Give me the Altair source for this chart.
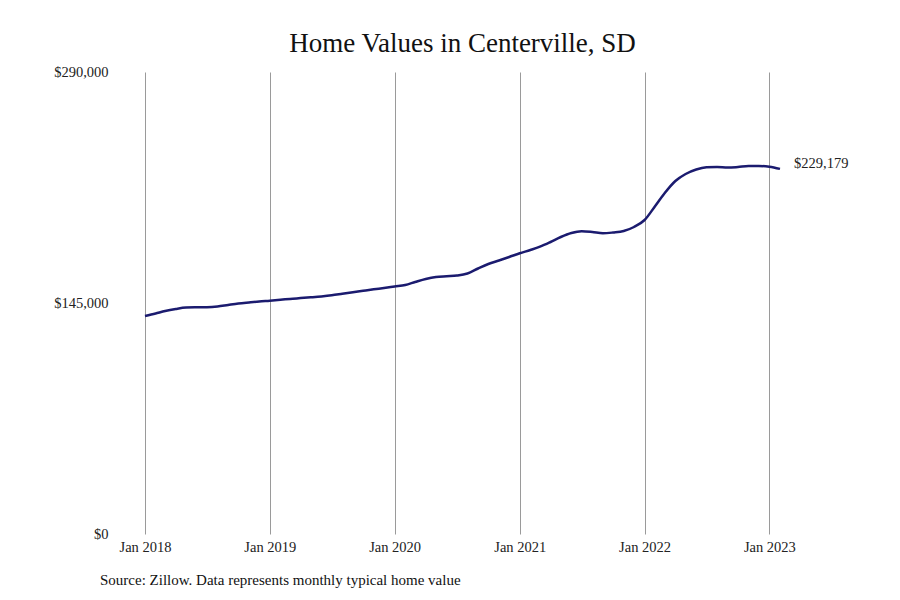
import altair as alt
import pandas as pd

months = pd.date_range("2018-01-01", "2023-02-01", freq="MS").strftime("%Y-%m-%d").tolist()
values = [
    136800, 138410, 139980, 141235, 142110, 142300, 142365, 142800, 143745, 144625, 145315, 145940,
    146450, 147010, 147575, 148080, 148580, 149145, 149835, 150775, 151720, 152660, 153600, 154415,
    155360, 156300, 158180, 160065, 161320, 161825, 162265, 163520, 166660, 169480, 171680, 173880,
    176200, 178270, 180340, 183290, 186430, 188940, 190070, 189570, 188750, 189255, 190195, 192710,
    197100, 205890, 214050, 221580, 225975, 228800, 230180, 230370, 229990, 230370, 231000, 231000,
    230560, 229179,
]
y_ticks = [0, 145000, 290000]
x_ticks = ["2018-01-01", "2019-01-01", "2020-01-01", "2021-01-01", "2022-01-01", "2023-01-01"]

df = pd.DataFrame({"date": months, "value": values})
last = df.tail(1)

FONT = "Liberation Serif"
x_enc = alt.X(
    "date:T",
    scale=alt.Scale(domain=["2018-01-01", "2023-02-01"]),
    axis=alt.Axis(
        values=x_ticks, format="Jan %Y", title=None, grid=True, gridColor="#9a9a9a",
        gridWidth=1, ticks=False, domain=False, labelFontSize=14.5, labelFont=FONT,
        labelColor="#222222", labelPadding=6, labelFlush=False, labelOverlap=False,
    ),
)
y_enc = alt.Y(
    "value:Q",
    scale=alt.Scale(domain=[0, 290000], nice=False),
    axis=alt.Axis(
        values=y_ticks, format="$,.0f", title=None, grid=False, ticks=False, domain=False,
        labelFontSize=14.5, labelFont=FONT, labelColor="#222222", labelPadding=37,
    ),
)

line = alt.Chart(df).mark_line(color="#1b1b6f", strokeWidth=2.5, interpolate="monotone").encode(
    x=x_enc, y=y_enc
)
end_label = alt.Chart(last).mark_text(
    align="left", dx=14, dy=-5, fontSize=14.5, font=FONT, color="#222222"
).encode(x=x_enc, y=y_enc, text=alt.Text("value:Q", format="$,.0f"))

source = alt.Chart(pd.DataFrame({"t": ["Source: Zillow. Data represents monthly typical home value"]})).mark_text(
    align="left", baseline="middle", fontSize=15, font=FONT, color="#111111"
).encode(x=alt.value(-45), y=alt.value(508), text="t:N")

chart = (
    alt.layer(line, end_label, source)
    .properties(
        width=635,
        height=462,
        background="white",
        title=alt.TitleParams(
            "Home Values in Centerville, SD", fontSize=27, font=FONT, fontWeight="normal",
            color="#111111", anchor="middle", offset=6,
        ),
        autosize=alt.AutoSizeParams(type="none"),
        padding={"left": 137, "top": 64, "right": 110, "bottom": 60},
    )
    .configure_view(stroke="transparent", strokeWidth=0)
)

chart.save("out.html", embed_options={"renderer": "svg", "actions": False})
